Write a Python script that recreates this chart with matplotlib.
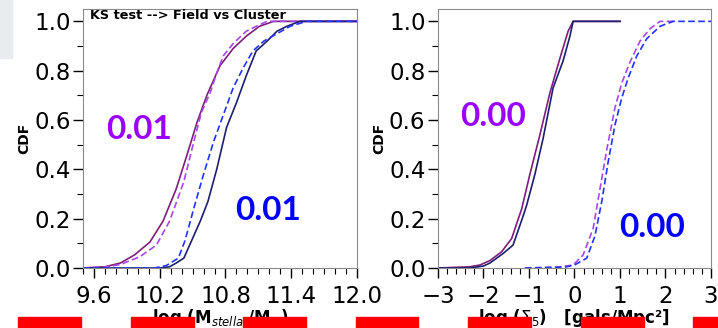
import numpy as np
import matplotlib
matplotlib.use('Agg')
import matplotlib.pyplot as plt
from matplotlib.patches import Rectangle
from matplotlib.ticker import MultipleLocator

# --- stellar mass CDFs (left panel)
mass_field_sf_x = [9.5, 9.7, 9.84, 9.97, 10.11, 10.23, 10.35, 10.45, 10.54, 10.63, 10.75, 10.87, 10.99, 11.11, 11.24, 12.0]
mass_field_sf_y = [0.0, 0.005, 0.02, 0.053, 0.105, 0.19, 0.32, 0.46, 0.59, 0.70, 0.82, 0.89, 0.94, 0.98, 1.0, 1.0]
mass_clus_sf_x = [9.5, 9.7, 9.84, 10.02, 10.17, 10.29, 10.42, 10.51, 10.58, 10.66, 10.72, 10.78, 10.87, 10.99, 11.08, 11.18, 12.0]
mass_clus_sf_y = [0.0, 0.004, 0.014, 0.046, 0.093, 0.19, 0.35, 0.51, 0.63, 0.71, 0.79, 0.86, 0.91, 0.96, 0.98, 1.0, 1.0]
mass_field_q_x = [9.5, 10.2, 10.29, 10.35, 10.42, 10.49, 10.57, 10.64, 10.72, 10.81, 10.90, 10.99, 11.08, 11.18, 11.27, 11.36, 11.48, 12.0]
mass_field_q_y = [0.0, 0.0, 0.005, 0.02, 0.04, 0.11, 0.19, 0.27, 0.40, 0.57, 0.67, 0.78, 0.88, 0.92, 0.96, 0.98, 1.0, 1.0]
mass_clus_q_x = [9.5, 10.15, 10.26, 10.37, 10.43, 10.51, 10.60, 10.69, 10.78, 10.87, 10.96, 11.05, 11.15, 11.27, 11.39, 11.54, 12.0]
mass_clus_q_y = [0.0, 0.0, 0.01, 0.04, 0.11, 0.24, 0.38, 0.51, 0.62, 0.73, 0.81, 0.88, 0.92, 0.95, 0.98, 1.0, 1.0]

# --- local density CDFs (right panel)
dens_a_x = [-3.0, -2.3, -2.08, -1.86, -1.60, -1.38, -1.16, -0.98, -0.76, -0.54, -0.32, -0.14, -0.03, 1.0]
dens_a_y = [0.0, 0.005, 0.012, 0.03, 0.066, 0.12, 0.24, 0.38, 0.54, 0.71, 0.85, 0.96, 1.0, 1.0]
dens_b_x = [-3.0, -2.3, -2.0, -1.86, -1.56, -1.35, -1.13, -1.05, -0.87, -0.69, -0.47, -0.25, -0.10, -0.03, 1.0]
dens_b_y = [0.0, 0.0, 0.008, 0.02, 0.06, 0.093, 0.21, 0.255, 0.38, 0.525, 0.73, 0.84, 0.94, 1.0, 1.0]
dens_c_x = [-1.09, -0.4, -0.03, 0.19, 0.41, 0.56, 0.71, 0.89, 1.04, 1.22, 1.44, 1.66, 1.88, 2.2]
dens_c_y = [0.0, 0.003, 0.012, 0.053, 0.16, 0.32, 0.48, 0.65, 0.75, 0.835, 0.92, 0.97, 1.0, 1.0]
dens_d_x = [-1.09, -0.2, 0.0, 0.27, 0.45, 0.60, 0.74, 0.89, 1.04, 1.18, 1.37, 1.59, 1.88, 2.17, 3.0]
dens_d_y = [0.0, 0.004, 0.012, 0.04, 0.13, 0.27, 0.43, 0.58, 0.69, 0.77, 0.86, 0.93, 0.98, 1.0, 1.0]

ks_mass = ['0.01', '0.01']
ks_dens = ['0.00', '0.00']

c_solid_p = '#7d1f78'
c_solid_b = '#1d1f6e'
c_dash_p = '#a548e8'
c_dash_b = '#2233ff'

fig = plt.figure(figsize=(7.18, 3.28), dpi=100)
ax1 = fig.add_axes([0.1156, 0.1829, 0.3816, 0.7896])
ax2 = fig.add_axes([0.6100, 0.1829, 0.3802, 0.7896])

ax1.plot(mass_field_sf_x, mass_field_sf_y, color=c_solid_p, lw=1.2)
ax1.plot(mass_clus_sf_x, mass_clus_sf_y, color=c_dash_p, lw=1.2, ls='--', dashes=(4, 2))
ax1.plot(mass_field_q_x, mass_field_q_y, color=c_solid_b, lw=1.2)
ax1.plot(mass_clus_q_x, mass_clus_q_y, color=c_dash_b, lw=1.2, ls='--', dashes=(4, 2))

ax2.plot(dens_a_x, dens_a_y, color=c_solid_p, lw=1.2)
ax2.plot(dens_b_x, dens_b_y, color=c_solid_b, lw=1.2)
ax2.plot(dens_c_x, dens_c_y, color=c_dash_p, lw=1.2, ls='--', dashes=(4, 2))
ax2.plot(dens_d_x, dens_d_y, color=c_dash_b, lw=1.2, ls='--', dashes=(4, 2))

ax1.set_xlim(9.5, 12.0)
ax2.set_xlim(-3, 3)
ax1.set_xticks([9.6, 10.2, 10.8, 11.4, 12.0])
ax1.xaxis.set_minor_locator(MultipleLocator(0.1))
ax2.xaxis.set_major_locator(MultipleLocator(1))
ax2.xaxis.set_minor_locator(MultipleLocator(0.2))

for ax in (ax1, ax2):
    ax.set_ylim(0, 1.05)
    ax.yaxis.set_major_locator(MultipleLocator(0.2))
    ax.yaxis.set_minor_locator(MultipleLocator(0.1))
    ax.tick_params(which='major', labelsize=16.5, length=7, width=1, pad=2)
    ax.tick_params(which='minor', length=4, width=0.8)
    ax.tick_params(axis='x', which='major', pad=5)
    for s in ax.spines.values():
        s.set_color('#8a8a8a')
    ax.set_ylabel('CDF', fontsize=10, fontweight='bold', labelpad=2)

ax1.set_xlabel(r'log (M$_{stellar}$/M$_{\odot}$)', fontsize=12, fontweight='bold')
ax2.set_xlabel(r'log ($\Sigma_5$)   [gals/Mpc²]', fontsize=12, fontweight='bold')
for ax in (ax1, ax2):
    ax.xaxis.set_label_coords(0.5, -0.214)
    ax.xaxis.label.set_va('baseline')

ax1.text(0.026, 1.0, 'KS test --> Field vs Cluster', transform=ax1.transAxes,
         fontsize=9.3, fontweight='bold', ha='left', va='top')

big = dict(fontsize=24, fontweight='bold', family='Lato')
ax1.text(10.01, 0.56, ks_mass[0], color='#9b00ff', ha='center', va='center', **big)
ax1.text(11.19, 0.235, ks_mass[1], color='#0000ff', ha='center', va='center', **big)
ax2.text(-1.8, 0.615, ks_dens[0], color='#9b00ff', ha='center', va='center', **big)
ax2.text(1.7, 0.165, ks_dens[1], color='#0000ff', ha='center', va='center', **big)

# slide overlay pieces
fig.patches.append(Rectangle((0, 1 - 58 / 328), 12 / 718, 58 / 328,
                             transform=fig.transFigure, color='#e8ecee', zorder=0))
for x0 in [18, 130.5, 243, 355.5, 468, 580.5, 693]:
    fig.patches.append(Rectangle((x0 / 718, 0), 63 / 718, 11 / 328,
                                 transform=fig.transFigure, color='#ff0000', zorder=10))

fig.savefig('out.png', dpi=100)
